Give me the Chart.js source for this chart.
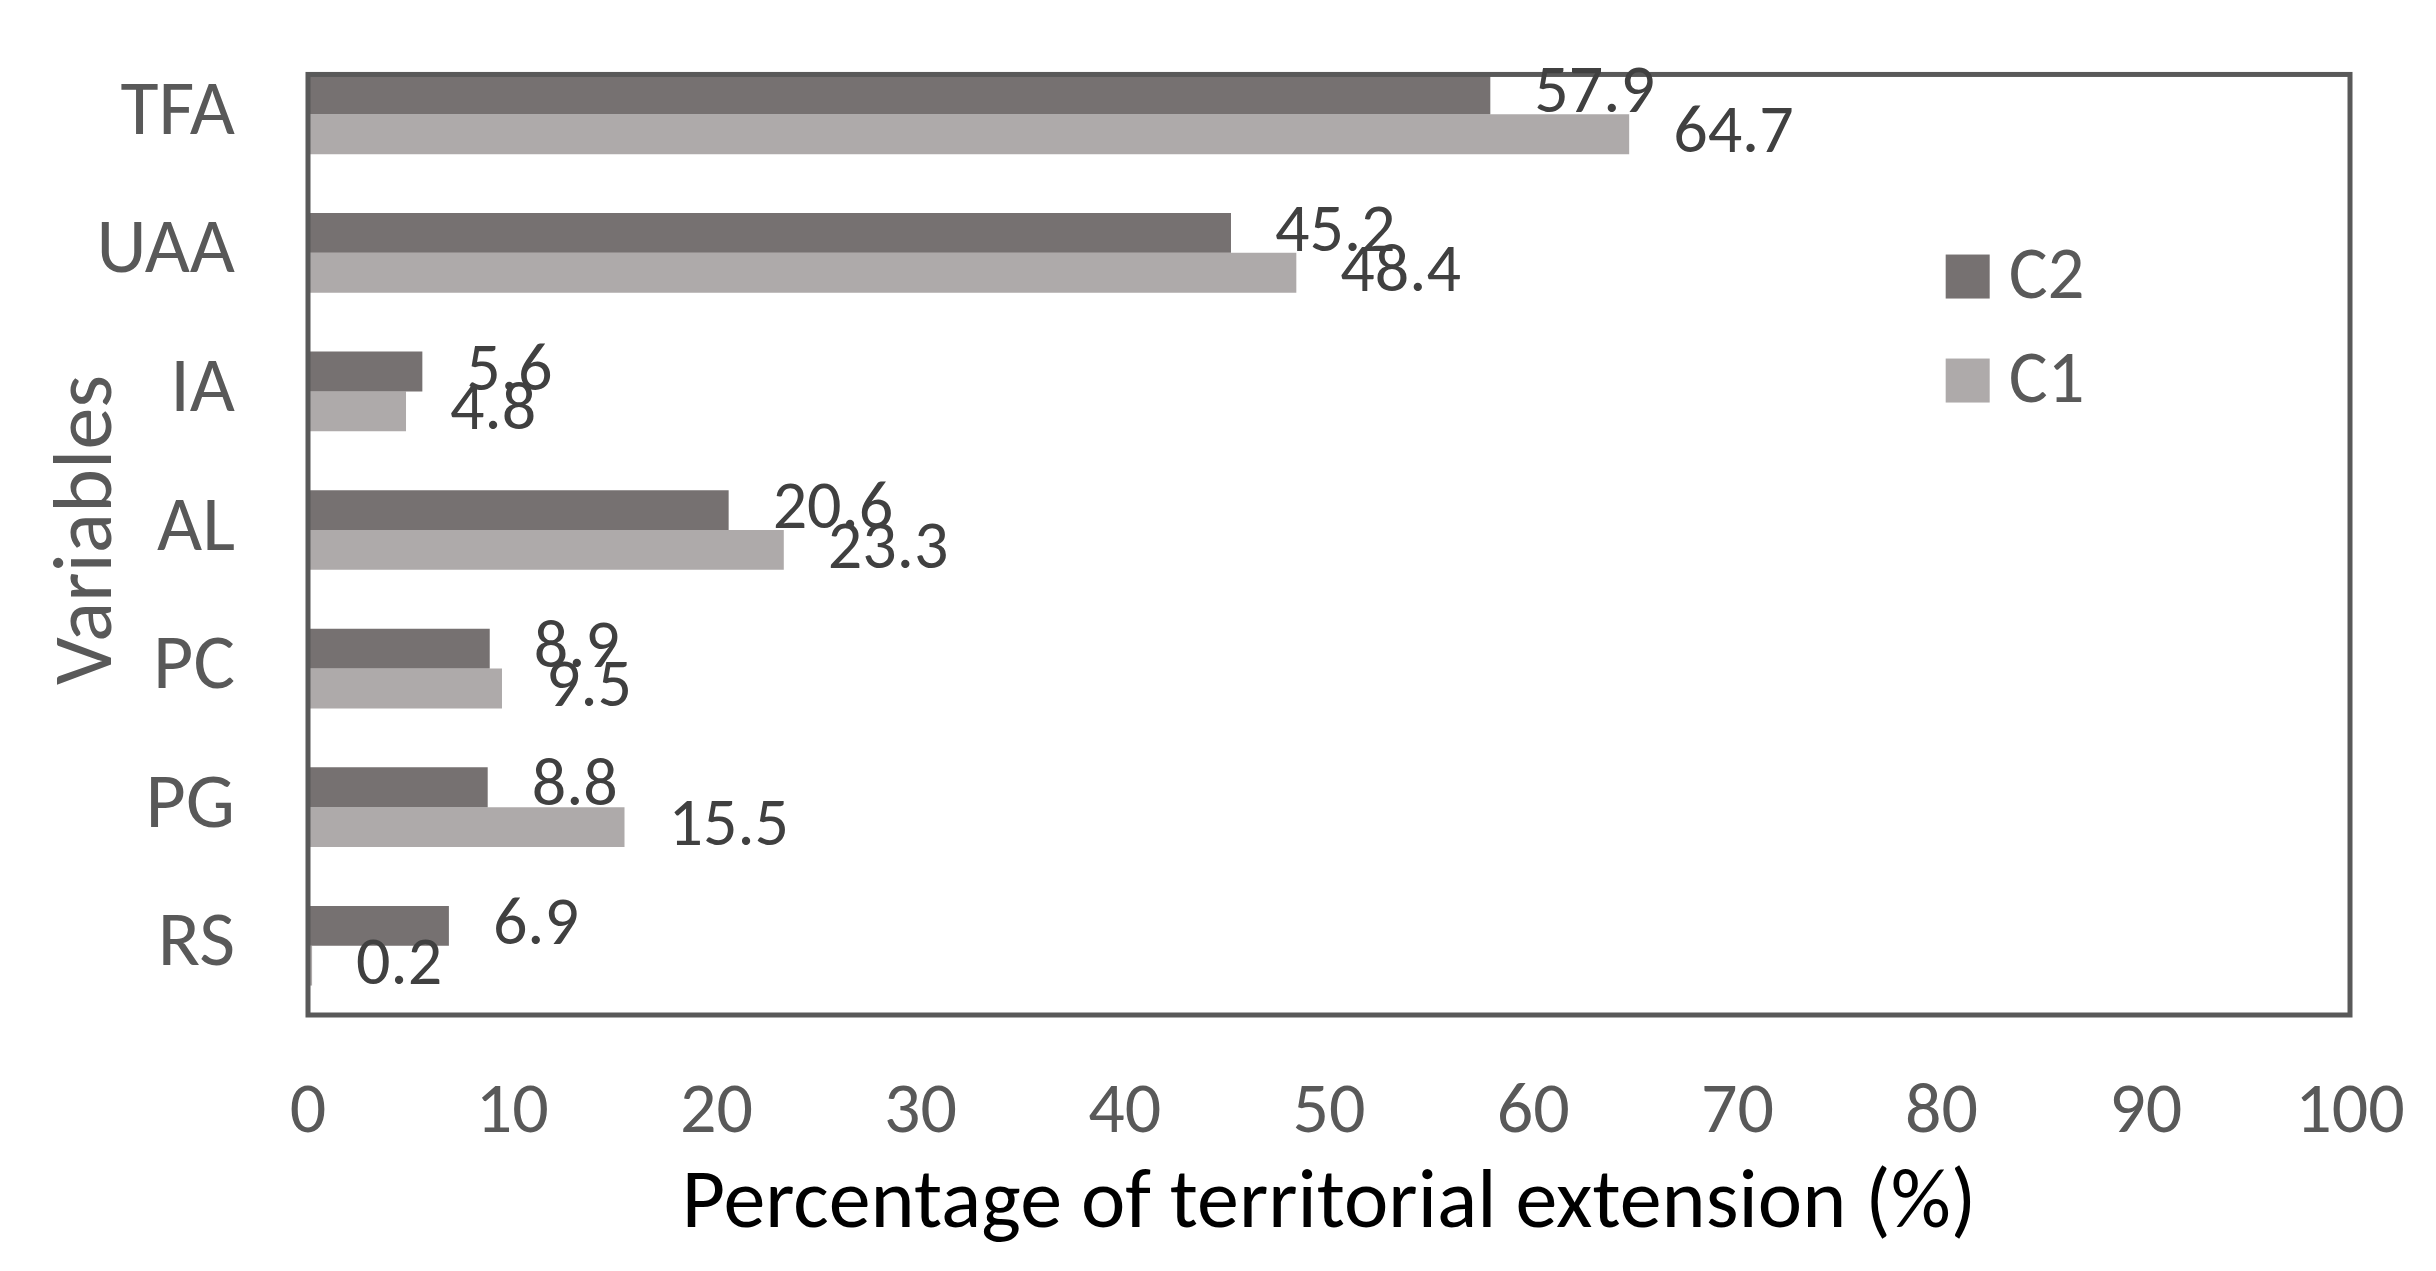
<!DOCTYPE html>
<html><head><meta charset="utf-8">
<style>html,body{margin:0;padding:0;background:#fff;overflow:hidden}canvas{display:block}</style>
<script src="https://cdn.jsdelivr.net/npm/chart.js@4.4.1/dist/chart.umd.min.js"></script>
</head><body>
<canvas id="c" width="2436" height="1271"></canvas>
<script>
// ---- data ----
const categories = ['TFA', 'UAA', 'IA', 'AL', 'PC', 'PG', 'RS'];
const seriesNames = ['C2', 'C1'];
const c2Values = [57.9, 45.2, 5.6, 20.6, 8.9, 8.8, 6.9];
const c1Values = [64.7, 48.4, 4.8, 23.3, 9.5, 15.5, 0.2];
const xTickValues = [0, 10, 20, 30, 40, 50, 60, 70, 80, 90, 100];
const xTitle = 'Percentage of territorial extension (%)';
const yTitle = 'Variables';

const FONT = 'Carlito, Calibri, Lato, sans-serif';
const GRAY = '#595959';

// plot frame: left/right/bottom follow the chart area, top sits on the first bar
const framePlugin = {
  id: 'frame',
  afterDatasetsDraw(chart) {
    const {ctx, chartArea: a} = chart;
    const first = chart.getDatasetMeta(0).data[0];
    const top = first ? first.y - first.height / 2 : a.top;
    ctx.save();
    ctx.strokeStyle = GRAY;
    ctx.lineWidth = 5;
    ctx.lineJoin = 'miter';
    ctx.strokeRect(a.left, top, a.right - a.left, a.bottom - top);
    ctx.restore();
  }
};

const labelPlugin = {
  id: 'valueLabels',
  afterDatasetsDraw(chart) {
    const {ctx} = chart;
    ctx.save();
    ctx.font = '68px ' + FONT;
    ctx.fillStyle = '#404040';
    ctx.textAlign = 'left';
    ctx.textBaseline = 'middle';
    chart.data.datasets.forEach((ds, di) => {
      chart.getDatasetMeta(di).data.forEach((bar, i) => {
        ctx.fillText(ds.data[i].toFixed(1), bar.x + 44, bar.y + 1);
      });
    });
    ctx.restore();
  }
};

const legendPlugin = {
  id: 'innerLegend',
  afterDraw(chart) {
    const {ctx, chartArea: a} = chart;
    const w = a.right - a.left, h = a.bottom - a.top;
    const x0 = a.left + 0.802 * w;
    const y0 = a.top + 0.2387 * h;
    const rowGap = 104, box = 44;
    ctx.save();
    ctx.font = '73px ' + FONT;
    ctx.textAlign = 'left';
    ctx.textBaseline = 'middle';
    chart.data.datasets.forEach((ds, i) => {
      const cy = y0 + i * rowGap;
      ctx.fillStyle = ds.backgroundColor;
      ctx.fillRect(x0, cy - box / 2, box, box);
      ctx.fillStyle = GRAY;
      ctx.fillText(ds.label, x0 + box + 19, cy + 3);
    });
    ctx.restore();
  }
};

new Chart(document.getElementById('c'), {
  type: 'bar',
  data: {
    labels: categories,
    datasets: [
      {label: seriesNames[0], data: c2Values, backgroundColor: '#767171', borderWidth: 0,
       barPercentage: 1, categoryPercentage: 0.575},
      {label: seriesNames[1], data: c1Values, backgroundColor: '#AEAAAA', borderWidth: 0,
       barPercentage: 1, categoryPercentage: 0.575}
    ]
  },
  options: {
    indexAxis: 'y',
    responsive: false,
    devicePixelRatio: 1,
    animation: false,
    layout: {padding: {top: 45, right: 86, left: 0, bottom: 0}},
    plugins: {legend: {display: false}, tooltip: {enabled: false}},
    scales: {
      x: {
        type: 'linear', min: 0, max: 100,
        afterBuildTicks(s) { s.ticks = xTickValues.map(v => ({value: v})); },
        afterFit(s) { s.height = 256; s.paddingLeft = 0; s.paddingRight = 0; },
        grid: {display: false, drawTicks: false},
        border: {display: false},
        ticks: {color: GRAY, font: {family: FONT, size: 72}, padding: 56, maxRotation: 0, autoSkip: false},
        title: {display: true, text: xTitle, color: '#000000',
                font: {family: FONT, size: 84, lineHeight: 1.2}, padding: {top: 0, bottom: 15}}
      },
      y: {
        afterFit(s) { s.width = 308; s.paddingTop = 0; s.paddingBottom = 0; },
        grid: {display: false, drawTicks: false},
        border: {display: false},
        ticks: {color: GRAY, font: {family: FONT, size: 78}, padding: 73},
        title: {display: true, text: yTitle, color: GRAY,
                font: {family: FONT, size: 84, lineHeight: 1.2}, padding: {top: 40, bottom: 0}}
      }
    }
  },
  plugins: [framePlugin, labelPlugin, legendPlugin]
});
</script></body></html>
